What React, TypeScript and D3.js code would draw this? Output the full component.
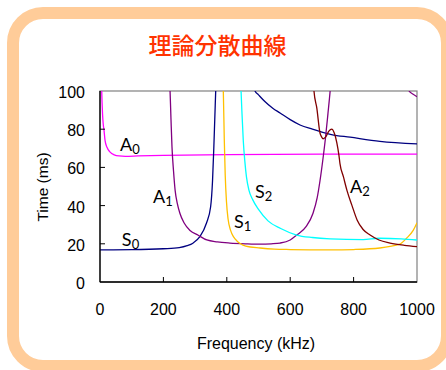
import React from 'react';
import * as d3 from 'd3';

type P = [number, number];

const xTicks = [0, 200, 400, 600, 800, 1000];
const yTicks = [0, 20, 40, 60, 80, 100];

const A0: P[] = [[5.4, 100], [6.5, 94], [8, 88], [10, 83], [12.6, 79.5], [16, 74], [22, 70.5], [32, 68], [45, 66.6], [60, 66], [80, 65.8], [120, 66], [200, 66.3], [400, 66.7], [700, 67], [1000, 67]];
const S0a: P[] = [[0, 16.8], [100, 16.9], [200, 17.4], [250, 18], [275, 19], [293, 20.3], [315, 23.7], [336, 30.9], [349, 39.4], [355, 53], [359, 70], [362, 85], [365, 100], [367, 110]];
const S0b: P[] = [[485, 106], [489, 100], [500, 98], [520, 94.5], [545, 91], [568, 88.5], [600, 85], [631, 82.2], [670, 80], [700, 78.5], [730, 77.2], [789, 75.8], [883, 73.6], [1000, 72.3]];
const A1a: P[] = [[219, 108], [221, 100], [224, 85], [227, 71], [232, 58], [237, 48], [244, 41], [252, 36], [265, 31], [284, 27], [310, 24.5], [337, 22], [370, 21], [410, 20.4], [460, 20], [505, 19.8], [540, 20], [568, 20.4], [600, 22], [621, 24.6], [650, 29], [672, 36], [685, 44], [694, 53], [703, 64], [711, 75], [719, 88], [726, 100], [729, 106]];
const A1b: P[] = [[968, 103], [975, 100], [988, 98.3], [1000, 97]];
const S1: P[] = [[387, 110], [389, 100], [392, 75], [395, 56], [399, 42], [404, 33], [412, 27], [422, 23.5], [432, 21.5], [442, 20.2], [460, 18.8], [505, 17.8], [550, 17.2], [600, 17], [726, 16.8], [800, 17], [883, 17.8], [920, 18.8], [946, 19.8], [967, 22.9], [988, 27], [1000, 31]];
const S2: P[] = [[443, 110], [445, 100], [448, 88], [452, 74], [457, 63], [462, 55], [470, 48], [482, 43], [500, 38], [530, 32], [570, 28], [620, 24.6], [670, 23.3], [726, 22.6], [830, 22.2], [880, 22.9], [950, 22.6], [1000, 22]];
const A2: P[] = [[673, 106], [675, 100], [684, 91], [694, 78], [699, 76], [704, 75], [712, 76], [722, 79], [731, 80], [739, 78], [747, 73], [754, 66], [757, 62], [768, 55], [779, 48], [795, 40], [811, 32.5], [830, 27.5], [852, 24.6], [880, 22], [915, 20.4], [960, 19.2], [1000, 18.5]];

const seriesNames = ['A0', 'S0', 'A1', 'S1', 'S2', 'A2'];
const seriesColors = ['#FF00FF', '#000080', '#800080', '#FFC000', '#00FFFF', '#800000'];
const seriesSegments: P[][][] = [[A0], [S0a, S0b], [A1a, A1b], [S1], [S2], [A2]];

// label anchors in data units: [letter, subscript, freq, time]
const labels: [string, string, number, number][] = [
  ['A', '0', 63, 68.6],
  ['S', '0', 69, 18.8],
  ['A', '1', 167, 41.4],
  ['S', '1', 423, 28.3],
  ['S', '2', 489, 44],
  ['A', '2', 789, 46.6],
];

export default function App() {
  const W = 446, H = 370;
  const x = d3.scaleLinear().domain([0, 1000]).range([100, 417]);
  const y = d3.scaleLinear().domain([0, 100]).range([282, 91]);
  const line = d3.line<P>().x(d => x(d[0])).y(d => y(d[1])).curve(d3.curveMonotoneX);
  const tickFont = '"Liberation Sans", Arial, sans-serif';

  return (
    <svg width={W} height={H} style={{ position: 'absolute', left: 0, top: 0, background: '#fff' }}>
      <rect x={13} y={13} width={434} height={353} rx={30} ry={30} fill="#fff" stroke="#FFCC99" strokeWidth={12} />
      <text x={217.5} y={54} textAnchor="middle" fontFamily='"Noto Sans CJK JP", sans-serif' fontSize={23} fontWeight={500} fill="#FF3300">理論分散曲線</text>
      <defs>
        <clipPath id="plot">
          <rect x={x(0)} y={y(100)} width={x(1000) - x(0)} height={y(0) - y(100)} />
        </clipPath>
      </defs>
      <rect x={x(0)} y={y(100)} width={x(1000) - x(0)} height={y(0) - y(100)} fill="none" stroke="#808080" strokeWidth={1.2} />
      <g clipPath="url(#plot)">
        {seriesSegments.map((segs, i) =>
          segs.map((seg, j) => (
            <path key={seriesNames[i] + j} d={line(seg) || ''} fill="none" stroke={seriesColors[i]} strokeWidth={1.3} />
          ))
        )}
      </g>
      <line x1={x(0)} x2={x(0)} y1={y(0)} y2={y(100)} stroke="#000" strokeWidth={1.3} />
      <line x1={x(0)} x2={x(1000)} y1={y(0)} y2={y(0)} stroke="#000" strokeWidth={1.3} />
      {xTicks.slice(1, -1).map(t => (
        <line key={'xt' + t} x1={x(t)} x2={x(t)} y1={y(0)} y2={y(0) - 5} stroke="#000" strokeWidth={1} />
      ))}
      {yTicks.slice(1, -1).map(t => (
        <line key={'yt' + t} x1={x(0)} x2={x(0) + 5} y1={y(t)} y2={y(t)} stroke="#000" strokeWidth={1} />
      ))}
      {xTicks.map(t => (
        <text key={'xl' + t} x={x(t)} y={315} textAnchor="middle" fontFamily={tickFont} fontSize={16} fill="#000">{t}</text>
      ))}
      {yTicks.map(t => (
        <text key={'yl' + t} x={85} y={y(t) + 7} textAnchor="end" fontFamily={tickFont} fontSize={16} fill="#000">{t}</text>
      ))}
      <text x={256} y={349} textAnchor="middle" fontFamily={tickFont} fontSize={16} fill="#000">Frequency (kHz)</text>
      <text transform={`translate(48,187) rotate(-90)`} textAnchor="middle" fontFamily={tickFont} fontSize={15.5} fill="#000">Time (ms)</text>
      {labels.map(([l, s, f, t], i) => (
        <text key={'lab' + i} x={x(f)} y={y(t)} fontFamily='Lato, "Open Sans", sans-serif' fontSize={18} fill="#000">
          {l}
          <tspan fontSize={13} dy={3}>{s}</tspan>
        </text>
      ))}
    </svg>
  );
}
